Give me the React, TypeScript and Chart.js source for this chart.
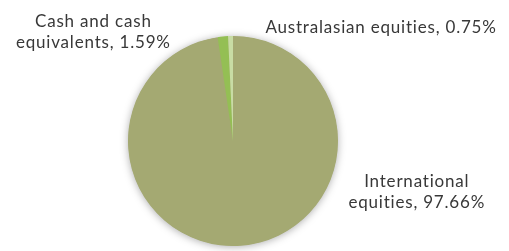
import React, { useEffect, useRef } from "react";
import { Chart, registerables } from "chart.js";

Chart.register(...registerables);

const categories = ["International equities", "Cash and cash equivalents", "Australasian equities"];
const values = [97.66, 1.59, 0.75];
const colors = ["#a4a972", "#94bf54", "#c8dca4"];
const labelLines = [
  ["International", "equities, 97.66%"],
  ["Cash and cash", "equivalents, 1.59%"],
  ["Australasian equities, 0.75%"],
];

const shadowPlugin = {
  id: "pieShadow",
  beforeDatasetsDraw(chart: any) {
    const meta = chart.getDatasetMeta(0);
    const arc = meta.data[0];
    if (!arc) return;
    const ctx = chart.ctx;
    ctx.save();
    ctx.shadowColor = "rgba(0,0,0,0.35)";
    ctx.shadowBlur = 8;
    ctx.shadowOffsetX = 0;
    ctx.shadowOffsetY = 1;
    ctx.beginPath();
    ctx.arc(arc.x, arc.y, arc.outerRadius - 0.5, 0, Math.PI * 2);
    ctx.fillStyle = colors[0];
    ctx.fill();
    ctx.restore();
  },
};

const labelPlugin = {
  id: "outLabels",
  afterDatasetsDraw(chart: any) {
    const meta = chart.getDatasetMeta(0);
    const arc = meta.data[0];
    if (!arc) return;
    const cx = arc.x;
    const cy = arc.y;
    const r = arc.outerRadius;
    const ctx = chart.ctx;
    ctx.save();
    ctx.font = "17px Lato, 'Open Sans', sans-serif";
    (ctx as any).letterSpacing = "0.8px";
    ctx.fillStyle = "#383838";
    ctx.textAlign = "center";
    ctx.textBaseline = "alphabetic";
    const anchors = [
      { x: cx + r * 1.75, y: cy + r * 0.44 },
      { x: cx - r * 1.33, y: cy - r * 1.09 },
      { x: cx + r * 1.41, y: cy - r * 1.03 },
    ];
    labelLines.forEach((lines, i) => {
      const a = anchors[i];
      lines.forEach((t, j) => {
        ctx.fillText(t, a.x, a.y + j * 21);
      });
    });
    ctx.restore();
  },
};

export default function App() {
  const ref = useRef<HTMLCanvasElement>(null);
  useEffect(() => {
    document.body.style.margin = "0";
    const chart = new Chart(ref.current as HTMLCanvasElement, {
      type: "pie",
      data: {
        labels: categories,
        datasets: [
          {
            data: values,
            backgroundColor: colors,
            borderWidth: 0,
          },
        ],
      },
      options: {
        animation: false,
        responsive: false,
        layout: { padding: { left: 128, right: 171, top: 36, bottom: 5 } },
        plugins: {
          legend: { display: false },
          tooltip: { enabled: false },
        },
      },
      plugins: [shadowPlugin, labelPlugin],
    });
    return () => chart.destroy();
  }, []);
  return <canvas ref={ref} width={509} height={251} style={{ display: "block" }} />;
}
